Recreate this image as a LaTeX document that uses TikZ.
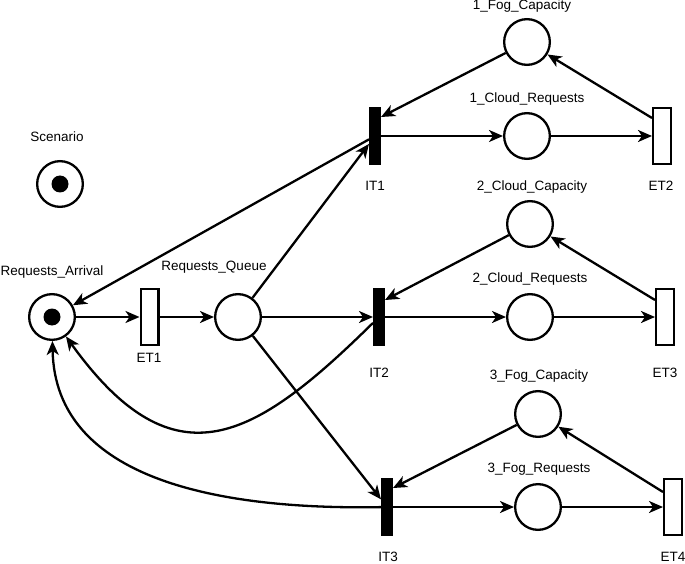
\documentclass[tikz,border=0pt]{standalone}
\usepackage{fontspec}
\setmainfont{Liberation Sans}
\usetikzlibrary{arrows.meta,calc}
\begin{document}
\begin{tikzpicture}[x=1pt,y=-1pt,
  every node/.style={font=\fontsize{13.5}{16}\selectfont},
  place/.style={circle,draw,line width=2.3pt,minimum size=45.7pt,inner sep=0pt},
  itrans/.style={rectangle,draw,fill=black,line width=2.3pt,minimum width=9.7pt,minimum height=55.7pt,inner sep=0pt},
  etrans/.style={rectangle,draw,fill=white,line width=2.3pt,minimum width=17.7pt,minimum height=55.7pt,inner sep=0pt},
  tok/.style={circle,fill=black,minimum size=17pt,inner sep=0pt},
  lbl/.style={inner sep=0pt,text height=10pt,text depth=3pt},
  arr/.style={line width=2.3pt,-{Stealth[length=14pt,width=12pt,inset=4pt]}},
]
\useasboundingbox (0,0) rectangle (685,564);
% places
\node[place] (SC) at (60,184) {};
\node[tok] (SCt) at (SC) {};
\node[lbl] (SCl) at (57,138) {Scenario};
\node[place] (RA) at (52,317) {};
\node[tok] (RAt) at (RA) {};
\node[lbl] (RAl) at (52,272) {Requests\_Arrival};
\node[place] (RQ) at (238,317) {};
\node[lbl] (RQl) at (214,267) {Requests\_Queue};
\node[place] (FC1) at (527,42) {};
\node[lbl] (FC1l) at (522,6) {1\_Fog\_Capacity};
\node[place] (CR1) at (527,136) {};
\node[lbl] (CR1l) at (527,99) {1\_Cloud\_Requests};
\node[place] (CC2) at (530,224) {};
\node[lbl] (CC2l) at (532,187) {2\_Cloud\_Capacity};
\node[place] (CR2) at (530,317) {};
\node[lbl] (CR2l) at (530,279) {2\_Cloud\_Requests};
\node[place] (FC3) at (538,414) {};
\node[lbl] (FC3l) at (539,376) {3\_Fog\_Capacity};
\node[place] (FR3) at (538,507) {};
\node[lbl] (FR3l) at (539,469) {3\_Fog\_Requests};
% transitions
\node[etrans] (ET1) at (149.5,317) {};
\node[lbl] (ET1l) at (149,359) {ET1};
\node[itrans] (IT1) at (375,136) {};
\node[lbl] (IT1l) at (375,187) {IT1};
\node[itrans] (IT2) at (379,317) {};
\node[lbl] (IT2l) at (379,374) {IT2};
\node[itrans] (IT3) at (387,507) {};
\node[lbl] (IT3l) at (388,558) {IT3};
\node[etrans] (ET2) at (662,136) {};
\node[lbl] (ET2l) at (661,187) {ET2};
\node[etrans] (ET3) at (665,317) {};
\node[lbl] (ET3l) at (665,374) {ET3};
\node[etrans] (ET4) at (673,507) {};
\node[lbl] (ET4l) at (673,558) {ET4};
% arcs
\draw[arr] (RA) -- (ET1);
\draw[arr] (ET1) -- (RQ);
\draw[arr] (RQ) -- (IT1);
\draw[arr] (RQ) -- (IT2);
\draw[arr] (RQ) -- (IT3);
\draw[arr] (IT1) -- (RA);
\draw[arr] (IT2) .. controls (255,439) and (175,488) .. (RA);
\draw[arr] (IT3) .. controls (220,510) and (55,480) .. (RA);
\draw[arr] (IT1) -- (CR1);
\draw[arr] (CR1) -- (ET2);
\draw[arr] ([yshift=-11pt]ET2.north west) -- (FC1);
\draw[arr] (FC1) -- ([yshift=-10pt]IT1.north east);
\draw[arr] (IT2) -- (CR2);
\draw[arr] (CR2) -- (ET3);
\draw[arr] ([yshift=-12pt]ET3.north west) -- (CC2);
\draw[arr] (CC2) -- ([yshift=-12pt]IT2.north east);
\draw[arr] (IT3) -- (FR3);
\draw[arr] (FR3) -- (ET4);
\draw[arr] ([yshift=-14pt]ET4.north west) -- (FC3);
\draw[arr] (FC3) -- ([yshift=-10pt]IT3.north east);
\end{tikzpicture}
\end{document}
